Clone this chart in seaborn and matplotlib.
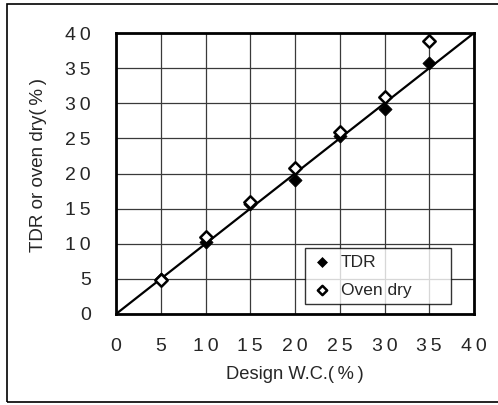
import matplotlib
matplotlib.use("Agg")
import matplotlib.pyplot as plt
import seaborn as sns
import pandas as pd
from matplotlib.patches import Rectangle

sns.set_theme(style="white")
plt.rcParams["font.family"] = ["Liberation Sans", "DejaVu Sans"]

design_wc = [5, 10, 15, 20, 25, 30, 35]
tdr = [5.0, 10.3, 15.6, 19.1, 25.3, 29.2, 35.7]
oven_dry = [4.9, 10.9, 15.9, 20.8, 25.9, 30.9, 38.9]
ticks = [0, 5, 10, 15, 20, 25, 30, 35, 40]
tick_labels = ["\u2009".join(str(t)) for t in ticks]

df = pd.DataFrame({"x": design_wc, "TDR": tdr, "Oven dry": oven_dry})

fig = plt.figure(figsize=(4.98, 4.05), dpi=100)
ax = fig.add_axes([116 / 498, 1 - 314 / 405, (474 - 116) / 498, (314 - 33) / 405])

# 1:1 reference line
sns.lineplot(x=[0, 40], y=[0, 40], ax=ax, color="black", linewidth=1.6, zorder=2)

sns.scatterplot(data=df, x="x", y="TDR", ax=ax, marker="D", s=45,
                color="black", edgecolor="black", label="TDR", zorder=3)
sns.scatterplot(data=df, x="x", y="Oven dry", ax=ax, marker="D", s=40,
                facecolor="white", edgecolor="black", linewidth=1.8,
                label="Oven dry", zorder=4)

ax.set_xlim(0, 40)
ax.set_ylim(0, 40)
ax.set_xticks(ticks)
ax.set_yticks(ticks)
ax.set_xticklabels(tick_labels, fontsize=14)
ax.set_yticklabels(tick_labels, fontsize=14)
ax.tick_params(axis="x", length=0, pad=17)
ax.tick_params(axis="y", length=0, pad=18)
ax.grid(True, color="#3a3a3a", linewidth=0.9)
ax.set_axisbelow(True)
for sp in ax.spines.values():
    sp.set_color("black")
    sp.set_linewidth(2)

ax.set_xlabel("Design W.C.(\u2009%\u2009)", fontsize=13.2, labelpad=8)
ax.set_ylabel("TDR or oven dry(\u2009%\u2009)", fontsize=13.5, labelpad=12)
ax.yaxis.set_label_coords(-0.192, 0.53)

leg = ax.legend(loc="lower left", bbox_to_anchor=(0.528, 0.036, 0.408, 0.2),
                mode="expand", borderaxespad=0, fontsize=12.5,
                frameon=True, fancybox=False, handletextpad=0.4,
                handlelength=1.3, borderpad=0.35, labelspacing=0.75,
                markerscale=0.75)
leg.get_frame().set_edgecolor("black")
leg.get_frame().set_linewidth(1.0)

# outer frame around the figure
fig.patches.append(Rectangle((7 / 498, 3 / 405), 500 / 498, 398 / 405,
                             transform=fig.transFigure, fill=False,
                             edgecolor="black", linewidth=1.2))

fig.savefig("out.png", dpi=100)
